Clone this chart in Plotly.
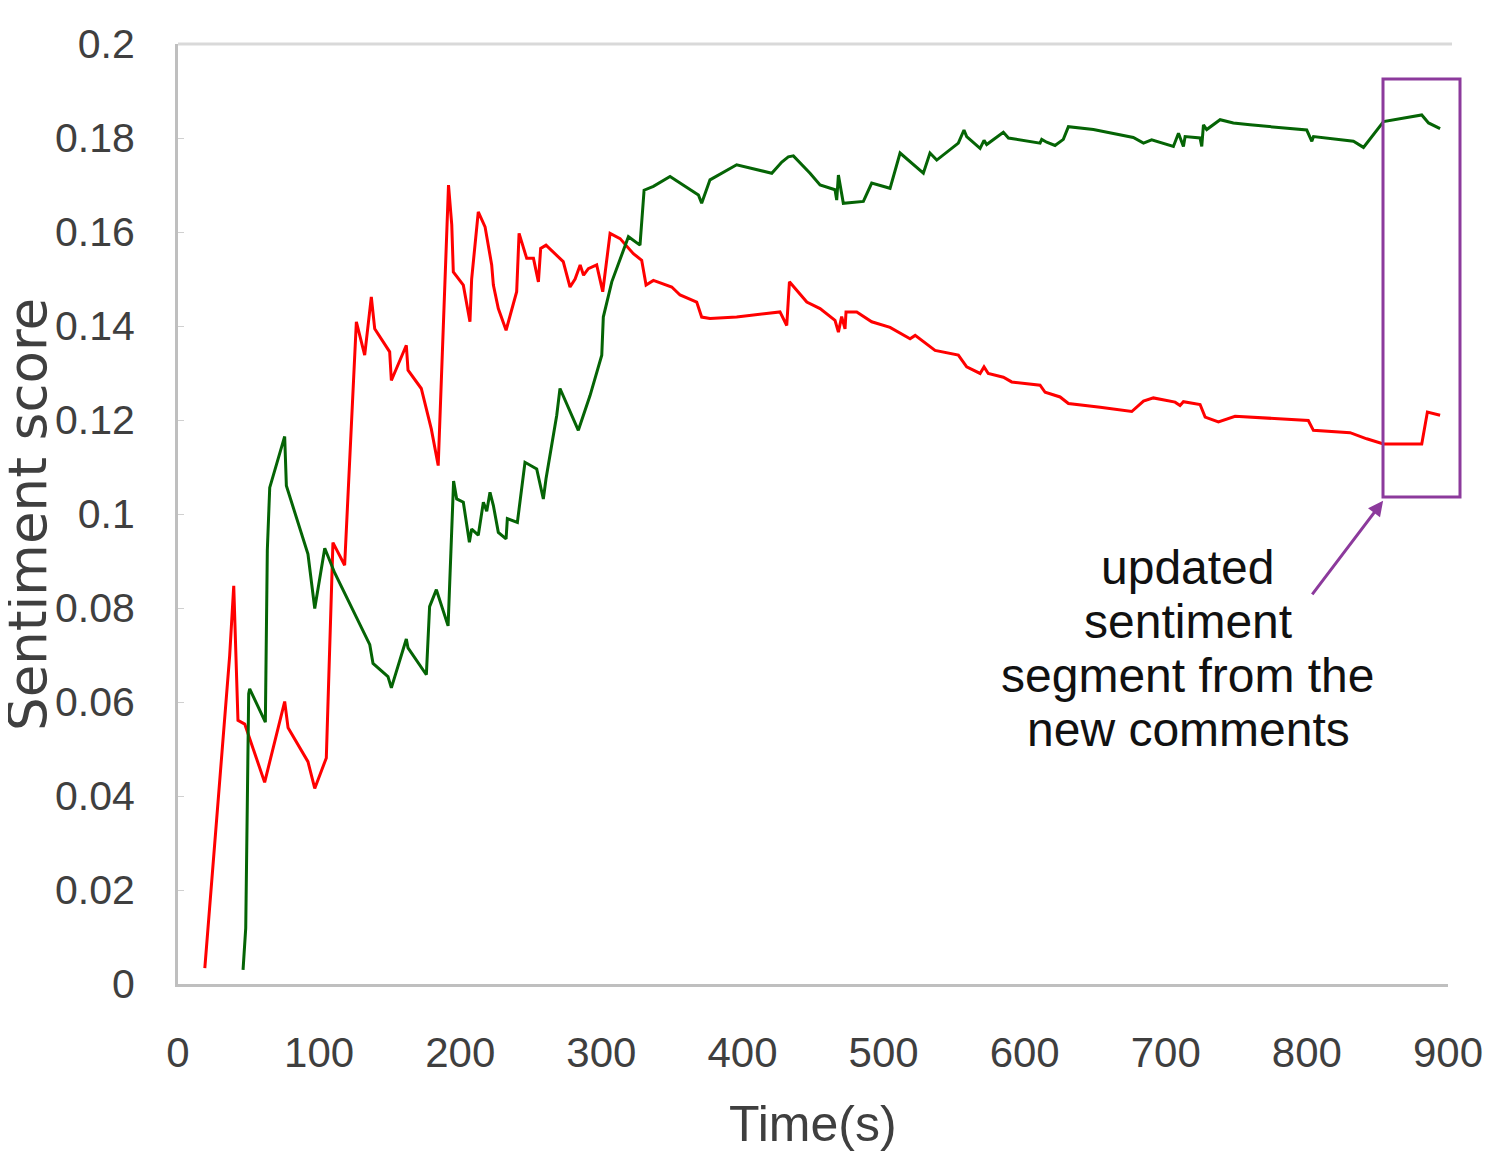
import plotly.graph_objects as go

# ---------------------------------------------------------------------------
# Data
# ---------------------------------------------------------------------------
red_t = [19, 36.6, 39.5, 42.5, 47.3, 61.4, 75.6, 78, 92.1, 96.9, 105.1, 109.8,
         118.1, 126.4, 132.3, 137, 139.4, 150, 151.2, 161.8, 163, 172.4, 179.5,
         184.4, 191.7, 194, 195.1, 202.2, 206.9, 208.1, 212.8, 217.6, 222.3,
         223.5, 227, 232.5, 240, 241.7, 247.1, 251.9, 255.4, 257, 260.8, 268.4,
         273, 277.8, 281.4, 285, 287.4, 290.8, 296.7, 301, 306.2, 313.3, 322.7,
         328.6, 331.7, 336.9, 349.9, 355.8, 367.6, 371.1, 377, 395.9, 426.6,
         431.4, 433.3, 445.6, 455, 465.6, 468, 470.3, 472.7, 473.4, 481, 491.6,
         504.6, 518.8, 522.4, 536.5, 553, 558.9, 568.4, 571.2, 574.2, 584.9,
         590.8, 610.9, 614.5, 625.1, 631, 653.5, 675.9, 684.2, 691.2, 706.6,
         710.1, 712.5, 724.3, 727.9, 737.3, 749.1, 801, 804.6, 830.6, 842.4,
         854.3, 881.4, 885.4, 894.4]
red_score = [0.0034, 0.0698, 0.0847, 0.0561, 0.0553, 0.0429, 0.0601, 0.0545,
             0.0473, 0.0416, 0.0481, 0.0939, 0.0891, 0.1409, 0.1338, 0.1462,
             0.1394, 0.1345, 0.1284, 0.1359, 0.1306, 0.1267, 0.1181, 0.1103,
             0.170, 0.1615, 0.1515, 0.1487, 0.1409, 0.150, 0.1643, 0.1611,
             0.153, 0.1487, 0.1437, 0.1391, 0.1473, 0.1597, 0.1544, 0.1544,
             0.1494, 0.1565, 0.1572, 0.1551, 0.1537, 0.1483, 0.150, 0.153,
             0.1508, 0.1522, 0.153, 0.1473, 0.1597, 0.1586, 0.1554, 0.154,
             0.1487, 0.1497, 0.1483, 0.1466, 0.1451, 0.1419, 0.1416, 0.1419,
             0.143, 0.1401, 0.1494, 0.1451, 0.1437, 0.1412, 0.1387, 0.142,
             0.1394, 0.143, 0.143, 0.1409, 0.1397, 0.1373, 0.138, 0.1348,
             0.1338, 0.1313, 0.1299, 0.1313, 0.1299, 0.1291, 0.1281, 0.1274,
             0.1259, 0.1249, 0.1235, 0.1227, 0.1218, 0.124, 0.1247, 0.1238,
             0.1231, 0.1239, 0.1233, 0.1206, 0.1196, 0.1208, 0.1199, 0.1178,
             0.1173, 0.116, 0.1149, 0.1149, 0.1217, 0.121]

green_t = [46.1, 48, 50.1, 50.8, 61.9, 63.3, 65, 75.6, 76.8, 92.1, 96.9, 104,
           111, 135.9, 138.2, 148.8, 151.2, 161.8, 163, 176, 178.3, 183.1,
           191.4, 193.7, 195.3, 197.5, 202.2, 206.5, 208.1, 212.8, 216.4, 218.8,
           221.1, 223.5, 227, 232.5, 233.4, 240.5, 245.9, 254.2, 258.9, 260.8,
           268.4, 270.7, 283.7, 292, 300.3, 301.4, 307.4, 319.2, 327.4, 330.3,
           336.9, 348.7, 355.8, 368.8, 371.1, 377, 395.9, 420.8, 427.9, 432.5,
           436.1, 447.9, 455, 465.6, 466.8, 468, 471.5, 485.7, 491.6, 504.6,
           511.7, 528.2, 532.9, 537.7, 553, 557, 558.9, 568.4, 571.2, 573.1,
           584.9, 588.5, 610.9, 612.1, 615.6, 621.5, 627.4, 631, 648.7, 677,
           684.2, 690, 705.4, 709, 712.5, 713.7, 724.3, 725.5, 726.7, 729,
           738.5, 747.9, 759.7, 799.9, 803.5, 804.7, 833, 840.1, 854.3, 881.4,
           886.2, 894.4]
green_score = [0.003, 0.0119, 0.0618, 0.0628, 0.0557, 0.0923, 0.1056, 0.1165,
               0.106, 0.0915, 0.0799, 0.0927, 0.0875, 0.0722, 0.0682, 0.0654,
               0.063, 0.0734, 0.0715, 0.0658, 0.0803, 0.0839, 0.0762, 0.0931,
               0.107, 0.1032, 0.1025, 0.094, 0.0968, 0.0955, 0.1025, 0.1006,
               0.1046, 0.1018, 0.0961, 0.0947, 0.099, 0.0982, 0.111, 0.1096,
               0.1032, 0.1075, 0.121, 0.1267, 0.1178, 0.1252, 0.1338, 0.1419,
               0.1494, 0.159, 0.1572, 0.1689, 0.1697, 0.1718, 0.1704, 0.1679,
               0.1661, 0.1711, 0.1743, 0.1725, 0.1749, 0.176, 0.1762, 0.1725,
               0.170, 0.169, 0.1668, 0.1721, 0.1661, 0.1665, 0.1704, 0.1693,
               0.1768, 0.1725, 0.1768, 0.1753, 0.1789, 0.1817, 0.1803, 0.1778,
               0.1795, 0.1786, 0.1812, 0.18, 0.1789, 0.1797, 0.1791, 0.1784,
               0.1797, 0.1824, 0.1818, 0.1801, 0.1789, 0.1796, 0.1782, 0.181,
               0.1782, 0.1803, 0.18, 0.1782, 0.1828, 0.1818, 0.1839, 0.1832,
               0.1828, 0.1817, 0.1793, 0.1803, 0.1793, 0.178, 0.1835, 0.1849,
               0.1832, 0.182]

x_ticks = [0, 100, 200, 300, 400, 500, 600, 700, 800, 900]
y_ticks = [0, 0.02, 0.04, 0.06, 0.08, 0.1, 0.12, 0.14, 0.16, 0.18, 0.2]
y_tick_text = ["0", "0.02", "0.04", "0.06", "0.08", "0.1", "0.12", "0.14",
               "0.16", "0.18", "0.2"]

note_lines = ["updated", "sentiment", "segment from the", "new comments"]

# ---------------------------------------------------------------------------
# Style / layout (pixel geometry of the plot box inside the figure)
# ---------------------------------------------------------------------------
_RED = "#ff0000"
_GREEN = "#056405"
_PURPLE = "#8c3a9c"
_AXIS = "#bfbfbf"
_TEXT = "#3f3f3f"
_TICK_FONT = "Liberation Sans, Arial, sans-serif"

W, H = 1486, 1164
L, R, T, B = 170, 46, 36, 188
PW, PH = W - L - R, H - T - B


def px_x(px):
    """figure pixel -> paper x"""
    return (px - L) / PW


def px_y(py):
    """figure pixel -> paper y"""
    return (H - B - py) / PH


fig = go.Figure()

fig.add_trace(go.Scatter(x=red_t, y=red_score, mode="lines",
                         line=dict(color=_RED, width=3), showlegend=False))
fig.add_trace(go.Scatter(x=green_t, y=green_score, mode="lines",
                         line=dict(color=_GREEN, width=3), showlegend=False))

# box around the updated segment (reaches past the right edge of the plot)
fig.add_shape(type="rect", xref="paper", yref="paper",
              x0=px_x(1375), x1=px_x(1452), y0=px_y(489), y1=px_y(71),
              line=dict(color=_PURPLE, width=3))
# light top border
fig.add_shape(type="line", xref="paper", yref="paper",
              x0=0, x1=px_x(1444), y0=1, y1=1,
              line=dict(color="#d9d9d9", width=3))

# note, one annotation per line to keep the tight line spacing
for i, line in enumerate(note_lines):
    fig.add_annotation(x=px_x(1180), y=px_y(559 + 54 * i),
                       xref="paper", yref="paper", xanchor="center",
                       yanchor="middle", text=line, showarrow=False,
                       font=dict(family="Liberation Sans, Arial, sans-serif",
                                 size=48, color="#111111"))
fig.add_annotation(x=854, y=0.1028, xref="x", yref="y", text="",
                   showarrow=True, ax=-72, ay=95, arrowhead=2, arrowsize=1,
                   arrowwidth=3, arrowcolor=_PURPLE)

# axis titles
fig.add_annotation(x=px_x(19), y=px_y(507), xref="paper", yref="paper",
                   xanchor="center", yanchor="middle",
                   text="Sentiment score", textangle=-90, showarrow=False,
                   font=dict(family="DejaVu Sans, sans-serif", size=53,
                             color=_TEXT))
fig.add_annotation(x=px_x(805), y=px_y(1116), xref="paper", yref="paper",
                   xanchor="center", yanchor="middle",
                   text="Time(s)", showarrow=False,
                   font=dict(family=_TICK_FONT, size=50, color=_TEXT))

fig.update_layout(
    width=W,
    height=H,
    margin=dict(l=L, r=R, t=T, b=B),
    paper_bgcolor="white",
    plot_bgcolor="white",
    font=dict(family=_TICK_FONT, color=_TEXT),
    xaxis=dict(
        range=[0, 900],
        tickvals=x_ticks,
        showgrid=False,
        zeroline=False,
        showline=True,
        linecolor=_AXIS,
        linewidth=3,
        ticks="",
        tickfont=dict(size=42, color=_TEXT),
        ticklabelstandoff=30,
    ),
    yaxis=dict(
        range=[0, 0.2],
        tickvals=y_ticks,
        ticktext=y_tick_text,
        showgrid=False,
        zeroline=False,
        showline=True,
        linecolor=_AXIS,
        linewidth=3,
        ticks="inside",
        ticklen=6,
        tickcolor="#d0d0d0",
        tickfont=dict(size=41, color=_TEXT),
        ticklabelstandoff=32,
    ),
)

fig.write_html("out.html")
